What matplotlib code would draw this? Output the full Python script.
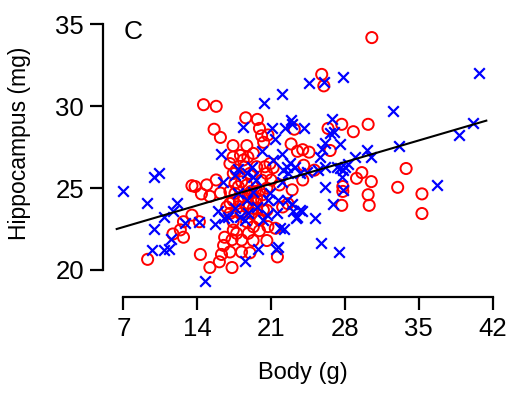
import numpy as np
import matplotlib
matplotlib.use("Agg")
import matplotlib.pyplot as plt

plt.rcParams['font.family'] = ['Liberation Sans', 'DejaVu Sans']

# red group (open circles): body (g), hippocampus (mg)
red_x = [30.55, 14.6, 15.8, 25.8, 26.0, 15.6, 16.2, 18.6, 19.7, 19.9, 20.1, 20.7, 20.3,
         18.7, 17.4, 17.4, 18.1, 18.8, 17.1, 17.7, 18.5, 15.8, 13.5, 13.8, 14.9, 14.4,
         15.2, 16.2, 17.1, 16.8, 13.5, 14.2, 12.7, 12.4, 12.7, 11.7, 14.3, 9.3, 15.2,
         16.1, 17.3, 16.3, 16.5, 16.6, 17.1, 17.3, 17.4, 18.2, 19.0, 19.3, 19.9, 20.6,
         20.7, 21.4, 21.6, 19.8, 20.6, 19.3, 18.8, 19.1, 19.6, 18.7, 18.0, 17.4, 19.9,
         20.2, 20.6, 21.0, 21.2, 20.9, 21.8, 22.1, 22.6, 23.0, 22.9, 23.2, 23.5, 24.0,
         24.6, 24.1, 24.0, 25.1, 26.4, 26.6, 27.7, 28.8, 30.2, 29.6, 29.1, 30.5, 27.8,
         27.8, 27.7, 30.2, 30.3, 33.0, 33.8, 35.3, 35.3,
         17.58, 18.21, 18.69, 19.0, 19.48, 19.63, 19.32, 18.84, 18.37, 17.9, 18.21,
         18.69, 19.16, 19.63, 20.11, 20.27, 19.95, 19.32, 18.84, 18.21, 17.74, 17.42,
         17.11, 17.58, 17.11, 17.9, 19.0, 19.63, 20.11, 20.58, 20.42, 19.32, 18.37, 17.42]
red_y = [34.2, 30.1, 30.0, 31.95, 31.25, 28.6, 28.1, 29.3, 29.2, 28.65, 28.2, 28.25, 27.8,
         27.6, 27.6, 26.9, 27.0, 26.9, 26.5, 26.1, 26.3, 25.5, 25.15, 25.1, 25.2, 24.65,
         24.5, 24.7, 24.8, 23.85, 23.35, 22.95, 22.95, 22.45, 22.0, 22.2, 20.95, 20.65,
         20.15, 20.5, 20.15, 20.95, 21.5, 22.0, 21.1, 21.85, 22.95, 21.1, 21.05, 21.8,
         22.4, 21.8, 22.65, 22.55, 20.8, 23.15, 23.65, 24.3, 24.5, 24.8, 24.1, 23.85,
         24.25, 24.25, 24.85, 24.6, 25.0, 25.5, 26.25, 26.5, 25.2, 23.85, 24.05, 24.9,
         27.7, 28.6, 27.25, 27.35, 27.2, 26.4, 25.5, 26.1, 28.65, 27.3, 28.9, 28.45, 28.9,
         25.95, 25.6, 25.4, 25.1, 24.8, 23.95, 24.6, 23.95, 25.05, 26.2, 24.65, 23.45,
         25.29, 25.39, 25.19, 24.68, 24.78, 24.38, 23.76, 24.07, 24.48, 23.87, 23.46,
         22.95, 23.46, 23.76, 24.27, 23.66, 23.05, 22.64, 22.24, 21.83, 22.24, 22.44,
         23.46, 24.68, 24.07, 25.09, 25.9, 26.31, 25.49, 25.9, 26.31, 27.12, 26.72, 25.9]

# blue group (crosses)
blue_x = [7.0, 9.2, 9.7, 9.9, 9.9, 10.4, 10.9, 10.9, 11.3, 11.5, 11.7, 12.1, 12.8, 14.2,
          14.7, 15.7, 16.0, 16.3, 16.4, 16.5, 16.9, 17.6, 17.9, 17.6, 17.9, 18.3, 18.5,
          18.5, 18.7, 19.2, 19.3, 19.6, 19.8, 20.1, 20.3, 20.6, 20.9, 21.1, 21.2, 21.4,
          21.5, 21.7, 21.8, 22.0, 22.0, 22.2, 22.3, 22.5, 22.5, 22.6, 22.9, 23.0, 23.0,
          23.1, 23.3, 23.4, 23.5, 23.7, 23.9, 24.1, 24.6, 25.2, 25.7, 25.8, 26.0, 26.1,
          26.6, 26.8, 26.9, 27.0, 27.4, 27.5, 27.8, 27.8, 27.8, 28.3, 29.0, 30.1, 30.5,
          32.6, 33.1, 36.7, 38.8, 40.1, 40.7,
          19.32, 18.69, 19.63, 18.84, 20.27, 18.05, 20.74, 21.69, 21.53, 22.16, 22.79,
          22.0, 23.74, 24.37, 25.48, 26.11, 27.21, 27.53, 28.0, 27.69, 25.64, 26.11]
blue_y = [24.84, 24.1, 21.2, 22.5, 25.7, 25.95, 23.25, 21.2, 21.3, 21.9, 23.6, 24.1, 22.9,
          22.95, 19.3, 22.8, 23.6, 27.1, 25.4, 23.15, 23.25, 25.8, 24.7, 23.8, 26.2, 28.75,
          20.55, 23.05, 25.95, 26.3, 25.7, 25.5, 21.3, 27.3, 30.2, 23.35, 24.7, 28.65,
          26.7, 28.0, 21.3, 21.4, 22.55, 30.75, 27.1, 22.5, 28.65, 24.3, 26.3, 25.9, 29.15,
          28.95, 24.05, 23.6, 26.3, 23.15, 23.25, 23.65, 23.6, 28.65, 31.45, 23.15, 21.65,
          27.4, 31.5, 25.05, 28.35, 29.25, 24.05, 28.45, 21.1, 27.7, 31.8, 26.1, 24.9,
          26.5, 26.9, 27.35, 26.9, 29.7, 27.6, 25.2, 28.25, 29.0, 32.05,
          24.78, 24.27, 23.87, 23.46, 23.05, 23.26, 24.27, 24.27, 23.46, 26.1, 26.51,
          25.39, 25.9, 26.0, 26.1, 26.31, 26.31, 26.21, 26.31, 25.7, 26.92, 27.73]

# fitted line
fit_intercept = 21.30
fit_slope = 0.189
fit_range = [6.37, 41.4]

x_ticks = [7, 14, 21, 28, 35, 42]
y_ticks = [20, 25, 30, 35]

fig = plt.figure(figsize=(5.17, 3.98), dpi=100)
ax = fig.add_axes([0.1992, 0.2538, 0.77, 0.697])

ax.scatter(red_x, red_y, s=64, facecolors='none', edgecolors='#ff0000', linewidths=1.4, zorder=2)
ax.scatter(blue_x, blue_y, s=58, marker='x', color='#0000ff', linewidths=1.6, zorder=3)

fx = np.array(fit_range)
ax.plot(fx, fit_intercept + fit_slope * fx, color='black', lw=1.5, zorder=4)

ax.set_xlim(5.07, 42.8)
ax.set_ylim(18.35, 35.3)

for s in ['top', 'right']:
    ax.spines[s].set_visible(False)
ax.spines['left'].set_bounds(20, 35)
ax.spines['bottom'].set_bounds(7, 42)
for s in ['left', 'bottom']:
    ax.spines[s].set_linewidth(1.6)

ax.set_xticks(x_ticks)
ax.set_yticks(y_ticks)
ax.tick_params(axis='both', length=9.5, width=1.6, labelsize=18.5)
ax.tick_params(axis='x', pad=5)
ax.tick_params(axis='y', pad=4)

ax.set_xlabel('Body (g)', fontsize=17, va='center')
ax.set_ylabel('Hippocampus (mg)', fontsize=16.5, va='center')
ax.xaxis.set_label_coords(0.5025, -0.274)
ax.yaxis.set_label_coords(-0.2085, 0.555)

ax.text(7.9, 34.53, 'C', fontsize=19, ha='center', va='center')

fig.savefig('out.png', dpi=100)
